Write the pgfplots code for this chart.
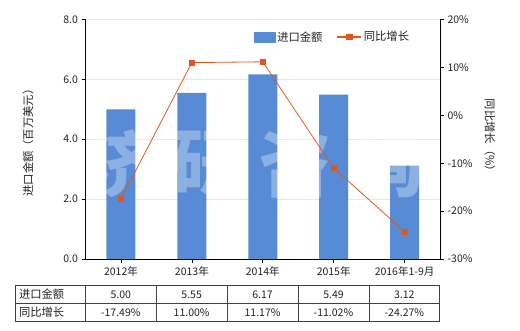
\documentclass[border=0pt]{standalone}
\usepackage{fontspec}
\setmainfont{Noto Sans CJK SC}
\usepackage{pgfplots}
\pgfplotsset{compat=1.18}
\definecolor{barblue}{HTML}{588BD6}
\definecolor{lineor}{HTML}{E0561C}
\definecolor{gridc}{HTML}{E8E8DE}
\definecolor{txt}{HTML}{222222}
\newcommand{\cjksize}{\fontsize{11.3bp}{13bp}\selectfont}
\begin{document}
\begin{tikzpicture}[x=1bp,y=1bp,font=\fontsize{10.5bp}{12bp}\selectfont,text=txt]
\useasboundingbox (0,0) rectangle (520,330);
\pgfplotsset{
  common/.style={
    at={(85.5bp,71bp)}, anchor=south west,
    scale only axis, width=354.5bp, height=239.5bp,
    xmin=-0.5, xmax=4.5,
    tick align=outside, major tick length=4bp,
    tick style={black, line width=0.6pt},
    axis line style={black, line width=0.8pt},
    /pgf/number format/assume math mode=true,
    tick label style={font=\fontsize{10.5bp}{12bp}\selectfont, text=txt},
  }
}
\begin{axis}[common,
  ymin=0, ymax=8,
  axis y line*=left, axis x line*=bottom,
  ytick={0,2,4,6,8},
  yticklabel style={/pgf/number format/fixed,/pgf/number format/fixed zerofill,/pgf/number format/precision=1},
  xtick={0,1,2,3,4},
  xticklabels={2012年,2013年,2014年,2015年,2016年1-9月},
  ymajorgrids, grid style={gridc, line width=0.6pt},
  ybar, bar width=29bp,
]
\addplot[fill=barblue, draw=none] coordinates {(0,5.00) (1,5.55) (2,6.17) (3,5.49) (4,3.12)};
\end{axis}
\begin{scope}[font=\fontsize{72bp}{80bp}\selectfont\bfseries]
\node[text=white, opacity=0.32] at (122,166) {济};
\node[text=white, opacity=0.32] at (207,166) {研};
\node[text=white, opacity=0.32] at (295,166) {咨};
\node[text=white, opacity=0.32] at (388,166) {询};
\end{scope}
\begin{axis}[common,
  ymin=-30, ymax=20,
  axis y line*=right, axis x line=none,
  ytick={-30,-20,-10,0,10,20},
  yticklabel={\pgfmathprintnumber{\tick}\%},
  legend columns=2,
  legend style={draw=none, fill=none, at={(0.466,0.927)}, anchor=west,
    font=\cjksize, /tikz/every even column/.append style={column sep=12bp}},
]
\addlegendimage{legend image code/.code={\fill[barblue] (0bp,-5bp) rectangle (21bp,5bp);}}
\addlegendentry{进口金额}
\addplot[lineor, line width=0.8pt, mark=square*, mark size=2.6bp, mark options={fill=lineor, draw=lineor},
  legend image code/.code={\draw[lineor, line width=1.4pt] (0bp,0bp) -- (24bp,0bp); \fill[lineor] (9.5bp,-2.8bp) rectangle (15.1bp,2.8bp);}]
  coordinates {(0,-17.49) (1,11.00) (2,11.17) (3,-11.02) (4,-24.27)};
\addlegendentry{同比增长}
\end{axis}
% axis titles
\node[rotate=90, font=\cjksize] at (28,190) {进口金额（百万美元）};
\node[rotate=-90, font=\cjksize] at (490,192) {同比增长（\%）};
% table
\begin{scope}[draw=black!75, line width=0.7pt]
\draw (15.3,44.3) rectangle (439.3,9);
\draw (15.3,26.3) -- (439.3,26.3);
\foreach \x in {85.3,156.2,227.1,298.0,368.9} \draw (\x,44.3) -- (\x,9);
\end{scope}
\node[anchor=west, font=\cjksize] at (15.5,35.5) {进口金额};
\node[anchor=west, font=\cjksize] at (15.5,17.8) {同比增长};
\foreach \v [count=\i from 0] in {5.00,5.55,6.17,5.49,3.12}
  \node at (120.75+70.9*\i,35.3) {\v};
\foreach \v [count=\i from 0] in {-17.49\%,11.00\%,11.17\%,-11.02\%,-24.27\%}
  \node at (120.75+70.9*\i,17.6) {\v};
\end{tikzpicture}
\end{document}
